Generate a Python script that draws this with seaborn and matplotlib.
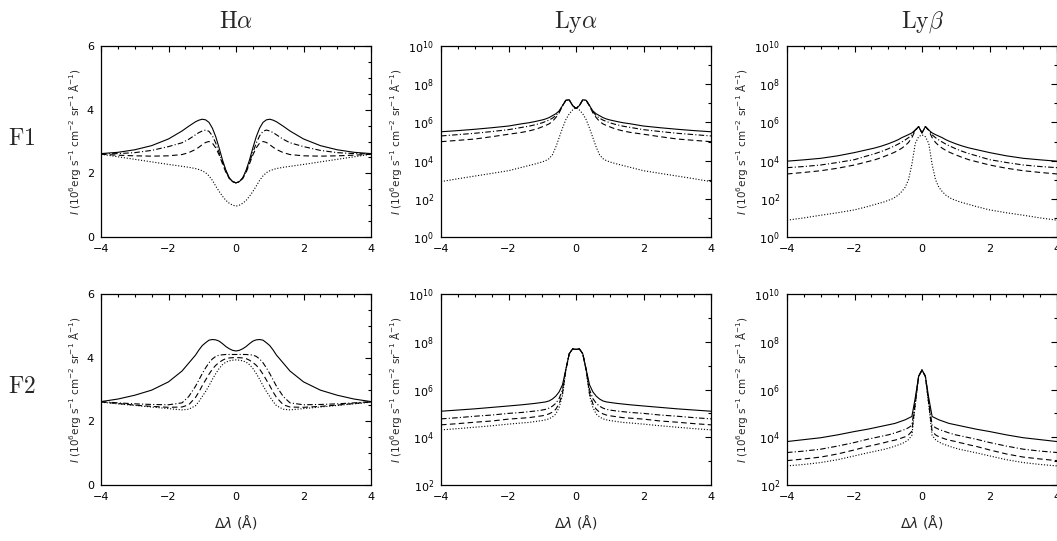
import numpy as np
import pandas as pd
import matplotlib
matplotlib.use('Agg')
import matplotlib.pyplot as plt
import matplotlib.ticker as mticker
import seaborn as sns

# distance from line centre (A); the profiles are symmetric, the blue side is mirrored
d = [0, 0.1, 0.2, 0.3, 0.4, 0.5, 0.6, 0.7, 0.8, 0.9, 1.0, 1.1, 1.2, 1.4, 1.6, 2.0, 2.5, 3.0, 3.5, 4.0]

# H-alpha, linear intensity (10^6 erg s-1 cm-2 sr-1 A-1)
ha_f1_solid = [1.70, 1.74, 1.86, 2.10, 2.42, 2.80, 3.15, 3.42, 3.60, 3.68, 3.70, 3.67, 3.62, 3.48, 3.33, 3.08, 2.87, 2.74, 2.66, 2.62]
ha_f1_dashdot = [1.70, 1.74, 1.85, 2.07, 2.35, 2.65, 2.95, 3.18, 3.32, 3.36, 3.33, 3.28, 3.21, 3.07, 2.96, 2.84, 2.72, 2.65, 2.62, 2.61]
ha_f1_dashed = [1.70, 1.74, 1.84, 2.03, 2.30, 2.58, 2.80, 2.95, 3.00, 2.97, 2.90, 2.82, 2.75, 2.65, 2.59, 2.55, 2.54, 2.55, 2.57, 2.60]
ha_f1_dotted = [0.97, 1.00, 1.06, 1.15, 1.28, 1.43, 1.60, 1.78, 1.92, 2.02, 2.08, 2.12, 2.15, 2.19, 2.22, 2.28, 2.36, 2.44, 2.52, 2.60]

ha_f2_solid = [4.21, 4.23, 4.28, 4.35, 4.44, 4.52, 4.56, 4.57, 4.55, 4.47, 4.38, 4.24, 4.08, 3.83, 3.58, 3.24, 2.98, 2.82, 2.70, 2.62]
ha_f2_dashdot = [4.10, 4.10, 4.10, 4.10, 4.09, 4.08, 4.04, 3.96, 3.84, 3.68, 3.50, 3.30, 3.10, 2.78, 2.58, 2.52, 2.53, 2.55, 2.58, 2.62]
ha_f2_dashed = [4.00, 4.00, 3.99, 3.97, 3.92, 3.85, 3.76, 3.64, 3.48, 3.30, 3.12, 2.92, 2.75, 2.52, 2.45, 2.44, 2.47, 2.51, 2.56, 2.61]
ha_f2_dotted = [3.93, 3.92, 3.90, 3.86, 3.78, 3.66, 3.50, 3.32, 3.12, 2.94, 2.78, 2.62, 2.49, 2.38, 2.36, 2.40, 2.45, 2.50, 2.55, 2.60]

# Ly-alpha and Ly-beta, log10 of intensity
la_f1_solid = [6.73, 6.88, 7.18, 7.16, 6.88, 6.60, 6.45, 6.35, 6.25, 6.18, 6.13, 6.09, 6.05, 5.98, 5.93, 5.81, 5.72, 5.64, 5.57, 5.51]
la_f1_dashdot = [6.73, 6.88, 7.18, 7.16, 6.88, 6.55, 6.35, 6.22, 6.12, 6.05, 5.98, 5.93, 5.88, 5.80, 5.74, 5.62, 5.52, 5.43, 5.36, 5.29]
la_f1_dashed = [6.73, 6.88, 7.18, 7.16, 6.86, 6.50, 6.25, 6.05, 5.92, 5.84, 5.77, 5.70, 5.64, 5.55, 5.48, 5.38, 5.25, 5.13, 5.06, 4.99]
la_f1_dotted = [6.78, 6.65, 6.45, 6.15, 5.70, 5.20, 4.70, 4.30, 4.10, 4.00, 3.93, 3.88, 3.83, 3.74, 3.65, 3.47, 3.33, 3.19, 3.05, 2.90]

lb_f1_solid = [5.45, 5.78, 5.60, 5.45, 5.36, 5.28, 5.20, 5.10, 5.02, 4.95, 4.88, 4.82, 4.76, 4.66, 4.58, 4.42, 4.25, 4.12, 4.04, 3.97]
lb_f1_dashdot = [5.45, 5.78, 5.60, 5.35, 5.20, 5.08, 4.97, 4.87, 4.78, 4.70, 4.62, 4.55, 4.48, 4.36, 4.26, 4.05, 3.90, 3.77, 3.69, 3.63]
lb_f1_dashed = [5.45, 5.78, 5.58, 5.20, 4.95, 4.78, 4.65, 4.54, 4.45, 4.37, 4.30, 4.23, 4.16, 4.04, 3.95, 3.77, 3.60, 3.47, 3.38, 3.30]
lb_f1_dotted = [5.35, 5.25, 4.90, 3.80, 3.00, 2.60, 2.38, 2.20, 2.08, 1.98, 1.92, 1.85, 1.80, 1.70, 1.60, 1.42, 1.27, 1.14, 1.00, 0.88]

la_f2_solid = [7.68, 7.70, 7.50, 6.85, 6.20, 5.90, 5.72, 5.60, 5.52, 5.48, 5.46, 5.44, 5.42, 5.39, 5.36, 5.31, 5.25, 5.19, 5.14, 5.09]
la_f2_dashdot = [7.68, 7.70, 7.50, 6.85, 6.00, 5.62, 5.42, 5.30, 5.22, 5.17, 5.14, 5.12, 5.10, 5.07, 5.04, 5.00, 4.93, 4.88, 4.82, 4.77]
la_f2_dashed = [7.68, 7.70, 7.50, 6.82, 5.85, 5.40, 5.17, 5.05, 4.98, 4.93, 4.90, 4.88, 4.86, 4.82, 4.80, 4.76, 4.68, 4.63, 4.57, 4.52]
la_f2_dotted = [7.68, 7.70, 7.50, 6.80, 5.75, 5.25, 4.97, 4.85, 4.77, 4.73, 4.70, 4.68, 4.66, 4.62, 4.60, 4.55, 4.48, 4.42, 4.36, 4.31]

lb_f2_solid = [6.82, 6.55, 5.65, 4.87, 4.80, 4.73, 4.68, 4.63, 4.58, 4.55, 4.52, 4.49, 4.46, 4.40, 4.34, 4.24, 4.10, 3.98, 3.90, 3.82]
lb_f2_dashdot = [6.82, 6.55, 5.50, 4.50, 4.40, 4.33, 4.28, 4.23, 4.18, 4.14, 4.10, 4.07, 4.04, 3.98, 3.92, 3.78, 3.63, 3.50, 3.42, 3.36]
lb_f2_dashed = [6.82, 6.55, 5.40, 4.25, 4.10, 4.02, 3.97, 3.92, 3.88, 3.85, 3.82, 3.78, 3.75, 3.68, 3.62, 3.47, 3.30, 3.17, 3.09, 3.02]
lb_f2_dotted = [6.82, 6.55, 5.35, 4.08, 3.90, 3.80, 3.73, 3.68, 3.63, 3.58, 3.54, 3.50, 3.47, 3.41, 3.35, 3.22, 3.06, 2.94, 2.86, 2.80]

titles = [r'$\mathrm{H}\alpha$', r'$\mathrm{Ly}\alpha$', r'$\mathrm{Ly}\beta$']
row_names = [r'$\mathrm{F1}$', r'$\mathrm{F2}$']
runs = ['solid', 'dashdot', 'dashed', 'dotted']

sns.set_theme(style='white')
plt.rcParams['font.family'] = ['DejaVu Sans']
plt.rcParams['mathtext.fontset'] = 'dejavusans'
plt.rcParams['axes.linewidth'] = 0.9

dash_map = {'solid': '', 'dashdot': (5, 2, 1, 2), 'dashed': (5, 3), 'dotted': (1, 1.6)}


def mirror(v):
    v = list(v)
    return v[::-1] + v[1:]


x_full = np.array([-a for a in d[::-1]] + d[1:])

panels = [
    [[ha_f1_solid, ha_f1_dashdot, ha_f1_dashed, ha_f1_dotted],
     [la_f1_solid, la_f1_dashdot, la_f1_dashed, la_f1_dotted],
     [lb_f1_solid, lb_f1_dashdot, lb_f1_dashed, lb_f1_dotted]],
    [[ha_f2_solid, ha_f2_dashdot, ha_f2_dashed, ha_f2_dotted],
     [la_f2_solid, la_f2_dashdot, la_f2_dashed, la_f2_dotted],
     [lb_f2_solid, lb_f2_dashdot, lb_f2_dashed, lb_f2_dotted]],
]

fig = plt.figure(figsize=(10.57, 5.41), dpi=100)
W, H = 1057.0, 541.0
lefts = [101, 441, 787]
tops = [46, 294]
pw, ph = 270, 191

ylabel = r'$I$ (10$^{6}$erg s$^{-1}$ cm$^{-2}$ sr$^{-1}$ $\mathrm{\AA}^{-1}$)'

for r in range(2):
    for c in range(3):
        ax = fig.add_axes([lefts[c] / W, 1 - (tops[r] + ph) / H, pw / W, ph / H])
        logp = c > 0
        frames = []
        for name, vals in zip(runs, panels[r][c]):
            yv = np.array(mirror(vals))
            if logp:
                yv = 10.0 ** yv
            frames.append(pd.DataFrame({'dl': x_full, 'I': yv, 'run': name}))
        df = pd.concat(frames, ignore_index=True)
        sns.lineplot(data=df, x='dl', y='I', style='run', style_order=runs,
                     dashes=dash_map, color='black', linewidth=0.8,
                     estimator=None, legend=False, ax=ax)

        ax.set_xlim(-4, 4)
        ax.set_xticks([-4, -2, 0, 2, 4])
        ax.xaxis.set_minor_locator(mticker.MultipleLocator(0.5))
        if logp:
            ax.set_yscale('log')
            lo = 0 if r == 0 else 2
            ax.set_ylim(10.0 ** lo, 1e10)
            ax.set_yticks([10.0 ** k for k in range(lo, 11, 2)])
            ax.set_yticks([10.0 ** k for k in range(lo + 1, 10, 2)], minor=True)
            ax.yaxis.set_minor_formatter(mticker.NullFormatter())
        else:
            ax.set_ylim(0, 6)
            ax.set_yticks([0, 2, 4, 6])
            ax.yaxis.set_minor_locator(mticker.MultipleLocator(0.5))

        ax.tick_params(which='both', direction='in', top=True, right=True,
                       labelsize=8, width=0.8, colors='black')
        ax.tick_params(which='major', length=4, pad=5)
        ax.tick_params(which='minor', length=2)
        for s in ax.spines.values():
            s.set_color('black')

        ax.set_ylabel(ylabel, fontsize=7.5, labelpad=3)
        if r == 1:
            ax.set_xlabel(r'$\Delta\lambda$ ($\mathrm{\AA}$)', fontsize=10, labelpad=8)
        else:
            ax.set_xlabel('')
        if r == 0:
            ax.set_title(titles[c], fontsize=17, pad=13, math_fontfamily='cm')

for r, name in enumerate(row_names):
    fig.text(22 / W, 1 - (tops[r] + 92) / H, name, fontsize=17, ha='center',
             va='center', math_fontfamily='cm')

fig.savefig('out.png', dpi=100, facecolor='white')
